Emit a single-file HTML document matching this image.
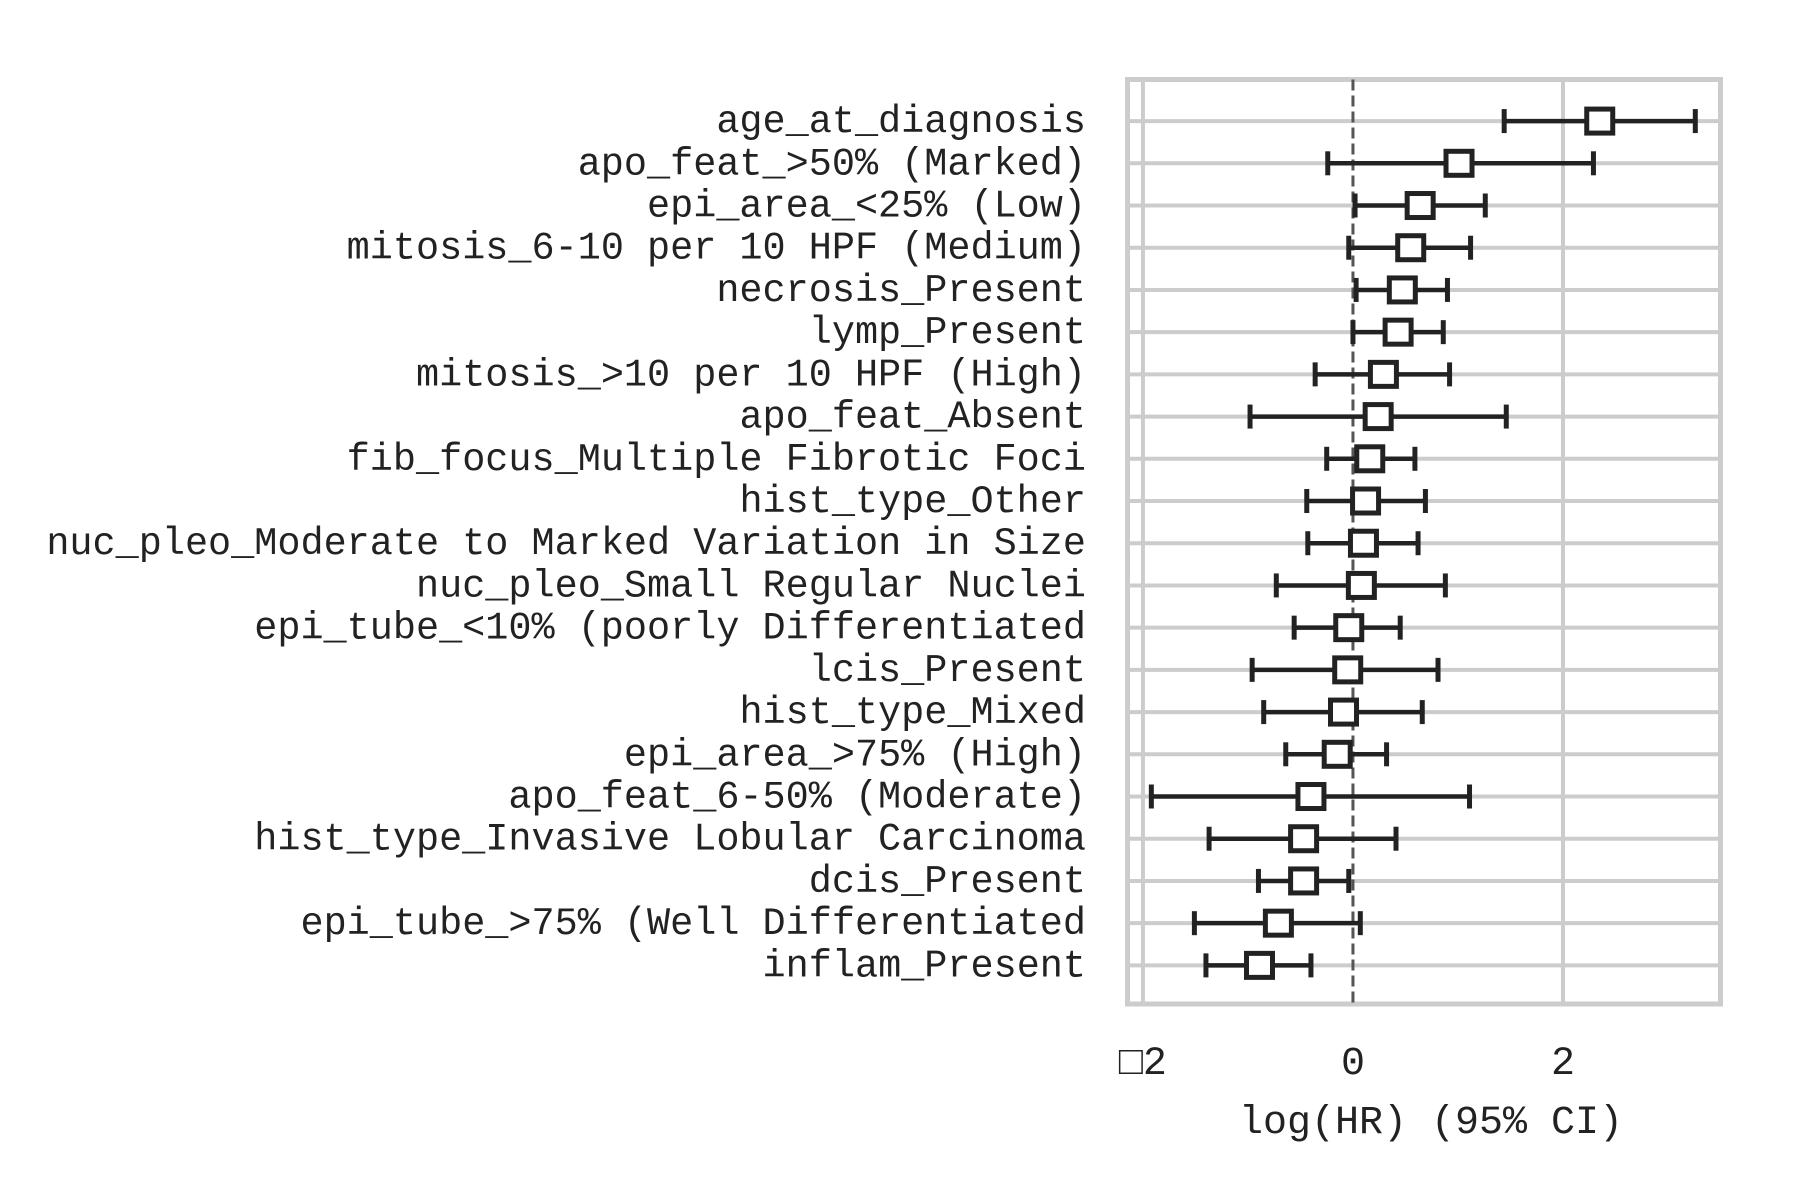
<!DOCTYPE html>
<html><head><meta charset="utf-8"><style>
html,body{margin:0;padding:0;background:#fff;}
svg{display:block;}
text{font-family:"Liberation Mono","DejaVu Sans Mono",monospace;fill:#222;}
</style></head><body>
<svg id="chart" width="1800" height="1200" viewBox="0 0 1800 1200">
<rect x="0" y="0" width="1800" height="1200" fill="#fff"/>
<g id="grid"></g><g id="marks"></g><g id="labels"></g>
</svg>
<script>
const labels = ["age_at_diagnosis","apo_feat_>50% (Marked)","epi_area_<25% (Low)","mitosis_6-10 per 10 HPF (Medium)","necrosis_Present","lymp_Present","mitosis_>10 per 10 HPF (High)","apo_feat_Absent","fib_focus_Multiple Fibrotic Foci","hist_type_Other","nuc_pleo_Moderate to Marked Variation in Size","nuc_pleo_Small Regular Nuclei","epi_tube_<10% (poorly Differentiated","lcis_Present","hist_type_Mixed","epi_area_>75% (High)","apo_feat_6-50% (Moderate)","hist_type_Invasive Lobular Carcinoma","dcis_Present","epi_tube_>75% (Well Differentiated","inflam_Present"];
const coef = [2.35,1.01,0.64,0.55,0.47,0.43,0.29,0.24,0.16,0.12,0.10,0.08,-0.04,-0.05,-0.09,-0.15,-0.40,-0.47,-0.47,-0.71,-0.89];
const lower = [1.44,-0.24,0.02,-0.04,0.03,0.0,-0.36,-0.98,-0.25,-0.44,-0.43,-0.73,-0.56,-0.96,-0.85,-0.64,-1.92,-1.37,-0.90,-1.51,-1.40];
const upper = [3.26,2.29,1.26,1.12,0.90,0.86,0.92,1.46,0.59,0.69,0.62,0.88,0.45,0.81,0.66,0.32,1.11,0.41,-0.04,0.07,-0.40];
const xTicks = [-2,0,2];
const xTickLabels = ["\u25A12","0","2"];

const NS="http://www.w3.org/2000/svg";
const L=1127.5,R=1720.5,T=79.5,B=1004;
const xmin=-2.147,xmax=3.5;
const X=v=>L+(v-xmin)/(xmax-xmin)*(R-L);
const n=labels.length;
const Y=i=>T+(i+0.985)*((B-T)/(n+0.9));
function mk(tag,attrs,parent){const e=document.createElementNS(NS,tag);for(const k in attrs)e.setAttribute(k,attrs[k]);parent.appendChild(e);return e;}
const grid=document.getElementById('grid'),marks=document.getElementById('marks'),lab=document.getElementById('labels');
for(let i=0;i<n;i++){
  const g=mk('line',{x1:L,x2:R,y1:Y(i),y2:Y(i),stroke:'#cccccc','stroke-width':4},grid);
  
  
}
xTicks.forEach((t,j)=>{
  if(t!==0){
    const g=mk('line',{x1:X(t),x2:X(t),y1:T,y2:B,stroke:'#cccccc','stroke-width':4},grid);
    
    
  }
  const tx=mk('text',{x:X(t),y:1074,'text-anchor':'middle','font-size':40},lab);
  tx.textContent=xTickLabels[j];
  
  
});
const frame=mk('rect',{x:L,y:T,width:R-L,height:B-T,fill:'none',stroke:'#cccccc','stroke-width':5},grid);


const zl=mk('line',{x1:X(0),x2:X(0),y1:T,y2:B,stroke:'#555','stroke-width':3,'stroke-dasharray':'11 5'},marks);


for(let i=0;i<n;i++){
  const y=Y(i);
  const ci=mk('line',{x1:X(lower[i]),x2:X(upper[i]),y1:y,y2:y,stroke:'#222','stroke-width':4.5},marks);
  
  
  [lower[i],upper[i]].forEach(v=>{
    const c=mk('line',{x1:X(v),x2:X(v),y1:y-12,y2:y+12,stroke:'#222','stroke-width':5},marks);
    
    
  });
  const s=mk('rect',{x:X(coef[i])-13,y:y-12,width:26,height:24,fill:'#fff',stroke:'#222','stroke-width':5},marks);
  
  
  const t=mk('text',{x:1086,y:y+11,'text-anchor':'end','font-size':38.5},lab);
  t.setAttribute('xml:space','preserve');
  t.style.whiteSpace='pre';
  t.textContent=labels[i];
  
  
}
const xl=mk('text',{x:1431,y:1133,'text-anchor':'middle','font-size':40},lab);
xl.textContent='log(HR) (95% CI)';


</script>
</body></html>
